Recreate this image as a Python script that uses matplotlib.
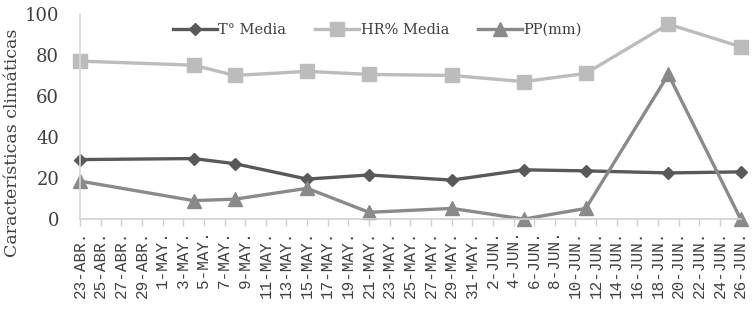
import matplotlib
matplotlib.use("Agg")
import matplotlib.pyplot as plt
import pandas as pd

# sampling dates and measured values
dates = ["2023-04-23", "2023-05-04", "2023-05-08", "2023-05-15", "2023-05-21",
         "2023-05-29", "2023-06-05", "2023-06-11", "2023-06-19", "2023-06-26"]
t_media = [29, 29.5, 27, 19.5, 21.5, 19, 24, 23.5, 22.5, 23]
hr_media = [77, 75, 70, 72, 70.5, 70, 67, 71, 95, 84]
pp_mm = [18.5, 9, 9.7, 15, 3.3, 5.2, 0, 5.2, 70.5, 0]

months = {4: "ABR", 5: "MAY", 6: "JUN"}

dates = pd.to_datetime(dates)
start = dates[0]
x = [(d - start).days for d in dates]

tick_days = list(range(0, x[-1] + 1, 2))
tick_labels = []
for d in tick_days:
    day = start + pd.Timedelta(days=d)
    tick_labels.append(f"{day.day}-{months[day.month]}.")

plt.rcParams['font.family'] = ['DejaVu Serif']
text_col = '#404040'

fig = plt.figure(figsize=(7.55, 3.09), dpi=100)
ax = fig.add_axes([0.106, 0.291, 0.875, 0.664])

ax.plot(x, t_media, color='#595959', lw=2.4, marker='D', ms=6.5, label='T° Media', clip_on=False)
ax.plot(x, hr_media, color='#bcbcbc', lw=2.4, marker='s', ms=9.5, label='HR% Media', clip_on=False)
ax.plot(x, pp_mm, color='#8a8a8a', lw=2.4, marker='^', ms=10, label='PP(mm)', clip_on=False)

ax.set_xlim(0, x[-1])
ax.set_ylim(0, 100)
ax.set_yticks([0, 20, 40, 60, 80, 100])
ax.set_xticks(tick_days)
ax.set_xticklabels(tick_labels, rotation=90, fontsize=11.5, color=text_col,
                   family='Liberation Mono')
ax.tick_params(axis='y', length=0, labelsize=13, labelcolor=text_col, pad=15)
ax.tick_params(axis='x', length=5, color='#d0d0d0', width=1, pad=3)

for s in ['top', 'right']:
    ax.spines[s].set_visible(False)
ax.spines['left'].set_color('#d9d9d9')
ax.spines['bottom'].set_color('#d0d0d0')
ax.spines['left'].set_linewidth(1.2)
ax.spines['bottom'].set_linewidth(1.2)
ax.patch.set_visible(False)

fig.text(0.016, 0.537, 'Características climáticas', rotation=90, fontsize=12.5,
         color=text_col, ha='center', va='center')

leg = ax.legend(loc='upper center', bbox_to_anchor=(0.45, 1.02), ncol=3, frameon=False,
                fontsize=10.5, handlelength=3.0, handletextpad=0.1, columnspacing=2.0,
                labelcolor=text_col)

fig.savefig('out.png', dpi=100)
